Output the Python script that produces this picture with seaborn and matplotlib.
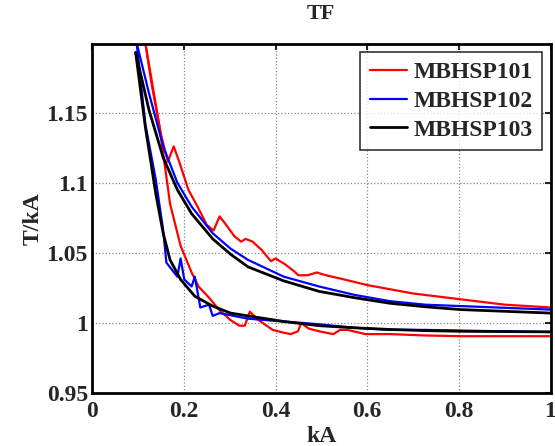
import matplotlib
matplotlib.use("Agg")
import matplotlib.pyplot as plt
import seaborn as sns
import pandas as pd

# MBHSP101 (red) - upper and lower branch
red_up_x = [0.116, 0.13, 0.15, 0.165, 0.178, 0.19, 0.21, 0.23, 0.25, 0.265, 0.278, 0.29, 0.31, 0.325,
            0.335, 0.35, 0.37, 0.39, 0.40, 0.42, 0.44, 0.45, 0.47, 0.49, 0.51, 0.55, 0.60, 0.65,
            0.70, 0.75, 0.80, 0.85, 0.90, 0.95, 1.0]
red_up_y = [1.20, 1.17, 1.135, 1.115, 1.126, 1.115, 1.095, 1.083, 1.07, 1.066, 1.076, 1.071, 1.062, 1.058,
            1.06, 1.058, 1.052, 1.044, 1.046, 1.042, 1.037, 1.034, 1.034, 1.036, 1.034, 1.031, 1.027, 1.024,
            1.021, 1.019, 1.017, 1.015, 1.013, 1.012, 1.011]
red_lo_x = [0.116, 0.147, 0.17, 0.193, 0.217, 0.232, 0.255, 0.278, 0.302, 0.321, 0.333, 0.344, 0.363,
            0.394, 0.418, 0.433, 0.449, 0.456, 0.472, 0.495, 0.526, 0.541, 0.557, 0.596, 0.65, 0.727,
            0.804, 1.0]
red_lo_y = [1.20, 1.14, 1.085, 1.055, 1.036, 1.026, 1.018, 1.009, 1.002, 0.998, 0.998, 1.008, 1.002,
            0.995, 0.993, 0.992, 0.994, 1.0, 0.996, 0.994, 0.992, 0.995, 0.995, 0.992, 0.992, 0.991,
            0.9905, 0.9905]

# MBHSP102 (blue)
blue_up_x = [0.097, 0.124, 0.155, 0.186, 0.217, 0.263, 0.302, 0.34, 0.418, 0.495, 0.572, 0.65, 0.727, 0.804, 1.0]
blue_up_y = [1.20, 1.164, 1.126, 1.10, 1.083, 1.064, 1.053, 1.045, 1.033, 1.026, 1.02, 1.0155, 1.013, 1.012, 1.0095]
blue_lo_x = [0.097, 0.116, 0.139, 0.155, 0.162, 0.186, 0.193, 0.201, 0.217, 0.224, 0.236, 0.255, 0.263,
             0.278, 0.309, 0.34, 0.418, 0.495, 0.572, 0.65, 0.727, 0.804, 0.882, 1.0]
blue_lo_y = [1.20, 1.142, 1.102, 1.066, 1.043, 1.033, 1.046, 1.031, 1.026, 1.033, 1.011, 1.013, 1.005,
             1.007, 1.005, 1.003, 1.001, 0.999, 0.9965, 0.995, 0.995, 0.9945, 0.9941, 0.9935]

# MBHSP103 (black)
black_up_x = [0.095, 0.124, 0.155, 0.186, 0.217, 0.263, 0.302, 0.34, 0.418, 0.495, 0.572, 0.65, 0.727, 0.804, 1.0]
black_up_y = [1.193, 1.152, 1.118, 1.095, 1.078, 1.06, 1.049, 1.04, 1.03, 1.0225, 1.018, 1.014, 1.0115, 1.0095, 1.007]
black_lo_x = [0.095, 0.116, 0.139, 0.155, 0.17, 0.193, 0.224, 0.263, 0.302, 0.34, 0.418, 0.495, 0.572, 0.65, 0.727, 0.804, 1.0]
black_lo_y = [1.193, 1.14, 1.092, 1.064, 1.045, 1.031, 1.019, 1.012, 1.007, 1.005, 1.001, 0.998, 0.9965, 0.9953, 0.9945, 0.994, 0.9936]

xticks = [0, 0.2, 0.4, 0.6, 0.8, 1]
xticklabels = ["0", "0.2", "0.4", "0.6", "0.8", "1"]
yticks = [0.95, 1.0, 1.05, 1.1, 1.15]
yticklabels = ["0.95", "1", "1.05", "1.1", "1.15"]

sns.set_style("white")
plt.rcParams["font.family"] = ["Liberation Serif", "DejaVu Serif"]
plt.rcParams["font.weight"] = "bold"

fig = plt.figure(figsize=(5.55, 4.46), dpi=100)
ax = fig.add_axes([0.166, 0.119, 0.826, 0.782])

series = [
    ("MBHSP101", "#ff0000", 1.6, red_up_x, red_up_y, red_lo_x, red_lo_y),
    ("MBHSP102", "#0000ff", 1.6, blue_up_x, blue_up_y, blue_lo_x, blue_lo_y),
    ("MBHSP103", "#000000", 2.0, black_up_x, black_up_y, black_lo_x, black_lo_y),
]
for name, col, lw, ux, uy, lx, ly in series:
    sns.lineplot(x=ux, y=uy, ax=ax, color=col, linewidth=lw, sort=False, estimator=None, label=name)
    sns.lineplot(x=lx, y=ly, ax=ax, color=col, linewidth=lw, sort=False, estimator=None)

ax.set_xlim(0, 1)
ax.set_ylim(0.95, 1.199)
ax.set_xticks(xticks)
ax.set_xticklabels(xticklabels)
ax.set_yticks(yticks)
ax.set_yticklabels(yticklabels)
ax.grid(True, color="#888888", linestyle=":", linewidth=0.9)
ax.tick_params(direction="in", length=4, width=1.5, labelsize=17, top=True, right=True)
ax.tick_params(axis="x", pad=6)
ax.tick_params(axis="y", pad=3)
for sp in ax.spines.values():
    sp.set_visible(True)
    sp.set_color("black")
    sp.set_linewidth(2)

ax.set_title("TF", fontsize=16, fontweight="bold", pad=18)
ax.set_xlabel("kA", fontsize=17, fontweight="bold", labelpad=3)
ax.set_ylabel("T/kA", fontsize=17, fontweight="bold", labelpad=2)

leg = ax.legend(loc="upper right", fontsize=17, frameon=True, fancybox=False,
                borderaxespad=0.35, handlelength=1.55, handletextpad=0.3,
                labelspacing=0.3, borderpad=0.4)
leg.get_frame().set_edgecolor("black")
leg.get_frame().set_linewidth(1.2)
for t in leg.get_texts():
    t.set_fontweight("bold")

fig.savefig("out.png", dpi=100)
